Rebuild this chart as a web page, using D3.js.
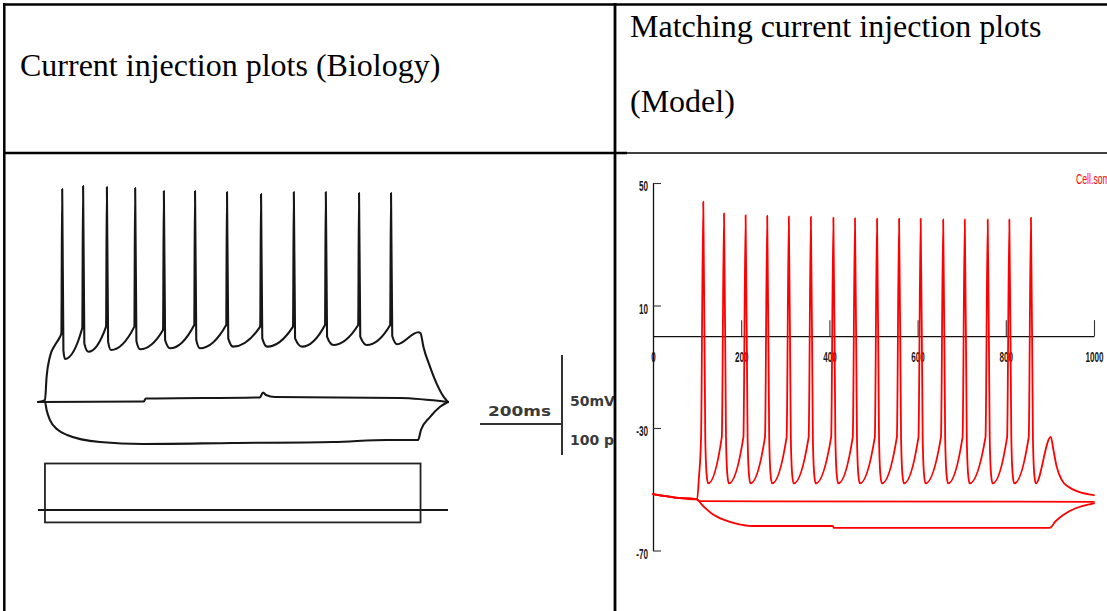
<!DOCTYPE html>
<html>
<head>
<meta charset="utf-8">
<script src="https://cdn.jsdelivr.net/npm/d3@7"></script>
<style>
  html, body { margin: 0; padding: 0; background: #fff; }
  svg { display: block; background: #fff; }
  .hdr { font-family: "Liberation Serif", "Times New Roman", serif; font-size: 32px; fill: #000; }
  .bar-label { font-family: "DejaVu Sans", Verdana, sans-serif; font-weight: bold; font-size: 14px; fill: #3a3a3a; }
  .axis text { font-family: "Liberation Sans", Arial, sans-serif; font-size: 14px; font-weight: bold; fill: #1a1a1a; }
  .axis path.domain { stroke: #111; stroke-width: 1.3; }
  .axis .tick line { stroke: #333; stroke-width: 1.1; }
  .trace { fill: none; stroke-linejoin: round; stroke-linecap: round; }
</style>
</head>
<body>
<svg id="Vis" width="1107" height="611"></svg>
<script>
/*
* DATA
*/

/* Table header texts */
const headerLeft = ["Current injection plots (Biology)"];
const headerRight = ["Matching current injection plots", "(Model)"];

/* Biology recording: time in ms, voltage in mV above baseline */
const bioOnset = [[17, 1.4], [21, 18.3], [29, 32.8], [41.5, 41.3], [53.7, 47.3]];
const bioSpikeT = [59, 110, 168, 237, 307, 383, 461, 544, 624, 702, 783, 861];
const bioSpikePeak = [154.3, 156.5, 155.8, 155.1, 152.9, 152.9, 152.2, 150.7, 152.2, 152.2, 151.4, 151.4];
const bioThreshV = [49.8, 53.6, 54.6, 54.6, 52.2, 55.8, 55.8, 54.6, 54.6, 55.8, 55.8, 55.8];
const bioTroughT = [66, 123, 178, 249, 322, 395, 476, 559, 644, 720, 802, 876];
const bioTroughV = [31.2, 36.4, 37.7, 38.2, 38.9, 38.9, 40.1, 40.1, 40.1, 41.3, 41.3, 41.8];
const bioOffset = [[927.6, 50.5], [933, 49.8], [940, 40.1], [956, 25.6], [972, 13.5], [990, 3.5], [1000, 0]];
const bioHyper = [[0, 0], [17, 0], [21, -5.8], [29, -13], [49, -20.3], [71, -23.9], [151, -29], [256, -30.4],
  [476, -29.7], [720, -29], [851, -27.5], [927, -27.5], [934, -20.3], [956, -10.9], [980, -3.6], [1000, 0]];
const bioBase = [[0, 0], [258, 0.4], [263, 2.5], [541, 3.3], [549, 6.9], [556, 5.1], [578, 3.6], [883, 2.9], [1000, 0]];

/* Biology current steps (pA) */
const bioStimOn = 17;
const bioStimOff = 933;
const bioStepsPA = [150, -40];

/* Scale bar */
const barMs = 200;
const barMV = 50;
const barPA = 100;
const barLabels = ["200ms", "50mV", "100 pA"];

/* Model (NEURON) plot: time in ms, voltage in mV */
const modelRest = [[0, -51.6], [50, -52.7], [100, -53.3]];
const modelSpikeT = [114, 161, 210, 259, 308, 358, 409, 458, 508, 558, 607, 658, 707, 759, 808, 857];
const modelSpikePeak = [43.9, 40.1, 39.5, 39.3, 39.1, 39.0, 38.7, 38.5, 38.4, 38.4, 38.4, 38.1, 38.1, 38.1, 38.1, 38.7];
const modelTroughV = [-48.1, -48.1, -48.1, -48.1, -48.1, -48.1, -48.1, -48.1, -48.1, -48.1, -48.1, -48.1, -48.1, -48.1, -48.1, -48.1];
const modelThreshV = -33;
const modelTail = [[902, -32.9], [908, -37.2], [915.5, -42.7], [927, -47], [942, -49.2], [964, -50.8], [1000, -51.9]];
const modelFlat = [[104, -53.9], [1000, -54.1]];
const modelHyper = [[110, -54.9], [133, -57.9], [163, -60.1], [193, -61.4], [224, -62.0], [408, -62.0], [410, -62.6],
  [900, -62.6], [912, -60.6], [930, -58.4], [957, -56.3], [1000, -54.6]];
const modelXTicks = [0, 200, 400, 600, 800, 1000];
const modelYTicks = [50, 10, -30, -70];
const modelLegend = "Cell.soma.v(.5)";


/*
* SETUP
*/

const svg = d3.select("svg#Vis");
const defs = svg.append("defs");

defs.append("clipPath").attr("id", "clipBio")
  .append("rect").attr("x", 6).attr("y", 155).attr("width", 608).attr("height", 456);
defs.append("clipPath").attr("id", "clipModel")
  .append("rect").attr("x", 617).attr("y", 155).attr("width", 490).attr("height", 456);

const g = {
  headers: svg.append("g").attr("id", "headers"),
  bio: svg.append("g").attr("id", "bio").attr("clip-path", "url(#clipBio)"),
  model: svg.append("g").attr("id", "model").attr("clip-path", "url(#clipModel)"),
  table: svg.append("g").attr("id", "table")
};


/*
* TABLE
*/

function drawTable() {
  const lines = [
    [3, 4.5, 1107, 4.5, 2.5],
    [4.3, 3, 4.3, 611, 2.5],
    [615, 3, 615, 611, 2.8],
    [4, 153, 627, 153, 2.4],
    [627, 153, 1107, 153, 1.3]
  ];
  g.table.selectAll("line")
    .data(lines)
    .join("line")
      .attr("x1", d => d[0]).attr("y1", d => d[1])
      .attr("x2", d => d[2]).attr("y2", d => d[3])
      .attr("stroke", "#000")
      .attr("stroke-width", d => d[4]);

  g.headers.append("text").attr("class", "hdr")
    .attr("x", 20).attr("y", 76)
    .text(headerLeft[0]);

  g.headers.selectAll("text.right")
    .data(headerRight)
    .join("text")
      .attr("class", "hdr right")
      .attr("x", 630)
      .attr("y", (d, i) => 37 + i * 75)
      .text(d => d);
}


/*
* BIOLOGY PANEL
*/

const bioX = d3.scaleLinear().domain([0, 1000]).range([38, 448]);
const bioY = d3.scaleLinear().domain([0, 50]).range([402, 333]);
const bioI = d3.scaleLinear().domain([0, 100]).range([510, 479]);

const bioLine = d3.line()
  .x(d => bioX(d[0]))
  .y(d => bioY(d[1]))
  .curve(d3.curveMonotoneX);

function bioDepolPoints() {
  let pts = [[0, 0]].concat(bioOnset);
  bioSpikeT.forEach((t, i) => {
    pts.push([t - 2, bioThreshV[i]]);
    pts.push([t, bioSpikePeak[i]]);
    pts.push([t + 3, bioTroughV[i] + 6]);
    pts.push([bioTroughT[i], bioTroughV[i]]);
  });
  return pts.concat(bioOffset);
}

function drawBio() {
  const traces = [bioBase, bioHyper, bioDepolPoints()];

  g.bio.selectAll("path.trace")
    .data(traces)
    .join("path")
      .attr("class", "trace")
      .attr("d", bioLine)
      .attr("stroke", "#161616")
      .attr("stroke-width", 2.1);

  /* current steps */
  const stim = g.bio.append("g").attr("class", "stim");
  stim.append("line")
    .attr("x1", bioX(0)).attr("x2", bioX(1000))
    .attr("y1", bioI(0)).attr("y2", bioI(0))
    .attr("stroke", "#161616").attr("stroke-width", 2);
  stim.append("rect")
    .attr("x", bioX(bioStimOn))
    .attr("y", bioI(bioStepsPA[0]))
    .attr("width", bioX(bioStimOff) - bioX(bioStimOn))
    .attr("height", bioI(bioStepsPA[1]) - bioI(bioStepsPA[0]))
    .attr("fill", "none")
    .attr("stroke", "#222").attr("stroke-width", 1.8);

  /* scale bar */
  const bar = g.bio.append("g").attr("class", "scalebar")
    .attr("transform", translate(562, 424));
  const barW = bioX(barMs) - bioX(0);
  const barUp = bioY(0) - bioY(barMV);
  const barDown = bioI(0) - bioI(barPA);
  bar.append("line").attr("x1", -barW).attr("x2", 0).attr("y1", 0).attr("y2", 0)
    .attr("stroke", "#333").attr("stroke-width", 2);
  bar.append("line").attr("x1", 0).attr("x2", 0).attr("y1", -barUp).attr("y2", barDown)
    .attr("stroke", "#333").attr("stroke-width", 2);
  bar.append("text").attr("class", "bar-label")
    .attr("x", -74).attr("y", -8)
    .attr("textLength", 63).attr("lengthAdjust", "spacingAndGlyphs")
    .text(barLabels[0]);
  bar.append("text").attr("class", "bar-label")
    .attr("x", 8).attr("y", -18)
    .text(barLabels[1]);
  bar.append("text").attr("class", "bar-label")
    .attr("x", 8).attr("y", 21)
    .text(barLabels[2]);
}


/*
* MODEL PANEL
*/

const modelX = d3.scaleLinear().domain([0, 1000]).range([653, 1094]);
const modelY = d3.scaleLinear().domain([-70, 50]).range([550.5, 183]);

const modelLine = d3.line()
  .x(d => modelX(d[0]))
  .y(d => modelY(d[1]))
  .curve(d3.curveMonotoneX);

function modelSpikingPoints() {
  let pts = modelRest.concat([[104, -46.5]]);
  modelSpikeT.forEach((t, i) => {
    pts.push([t - 5, modelThreshV]);
    pts.push([t, modelSpikePeak[i]]);
    pts.push([t + 4.5, modelThreshV]);
    pts.push([t + 7.5, -45]);
    pts.push([t + 11, modelTroughV[i]]);
  });
  return pts.concat(modelTail);
}

function drawModel() {
  const condense = 0.58;

  const xAxis = d3.axisBottom(modelX)
    .tickValues(modelXTicks)
    .tickFormat(d => String(d))
    .tickSizeInner(-16)
    .tickSizeOuter(0)
    .tickPadding(16);

  const yAxis = d3.axisLeft(modelY)
    .tickValues(modelYTicks)
    .tickFormat(d => String(d))
    .tickSizeInner(-8)
    .tickSizeOuter(0)
    .tickPadding(5);

  const gx = g.model.append("g").attr("class", "axis x")
    .attr("transform", translate(0, modelY(0)))
    .call(xAxis);
  gx.selectAll("text").attr("transform", `scale(${condense},1)`);

  const gy = g.model.append("g").attr("class", "axis y")
    .attr("transform", translate(modelX(0), 0))
    .call(yAxis);
  gy.selectAll("text")
    .attr("x", -5 / condense)
    .attr("dy", "0.57em")
    .attr("transform", `scale(${condense},1)`);

  const traces = [
    modelRest.concat(modelFlat),
    modelRest.concat(modelHyper),
    modelSpikingPoints()
  ];

  g.model.selectAll("path.trace")
    .data(traces)
    .join("path")
      .attr("class", "trace")
      .attr("d", modelLine)
      .attr("stroke", "#ff0000")
      .attr("stroke-width", 1.8);

  /* legend label runs off the right edge, as in the original plot window */
  g.model.append("text")
    .attr("transform", translate(1076, 184) + ` scale(${condense},1)`)
    .attr("font-family", "Liberation Sans, Arial, sans-serif")
    .attr("font-size", 15)
    .attr("fill", "#ff0000")
    .text(modelLegend);
}


drawBio();
drawModel();
drawTable();


/*
* HELPER FUNCTIONS
*/

function translate(x, y) {
  return 'translate(' + String(x) + ',' + String(y) + ')';
}
</script>
</body>
</html>
